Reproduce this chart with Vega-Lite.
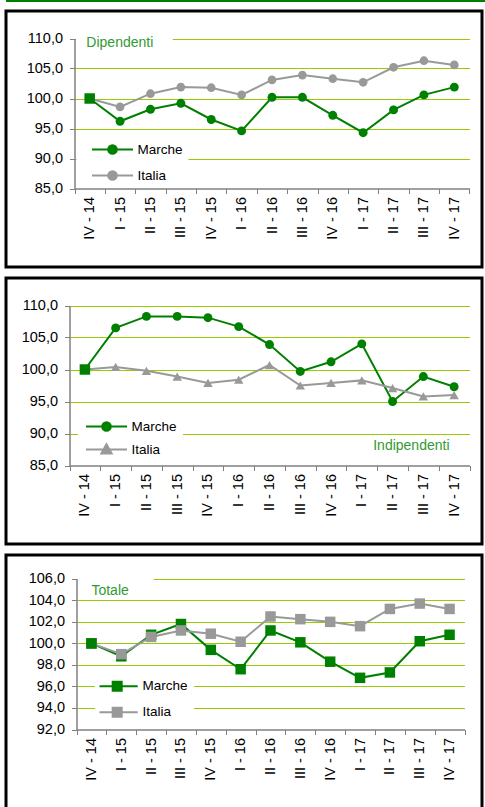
{
  "$schema": "https://vega.github.io/schema/vega-lite/v6.json",
  "padding": {"left": -4, "top": 0, "right": 0, "bottom": 0},
  "spacing": 7,
  "datasets": {
    "d1": [
      {"q": "IV - 14", "s": "Marche", "v": 100.0}, {"q": "I - 15", "s": "Marche", "v": 96.2}, {"q": "II - 15", "s": "Marche", "v": 98.2}, {"q": "III - 15", "s": "Marche", "v": 99.2}, {"q": "IV - 15", "s": "Marche", "v": 96.5}, {"q": "I - 16", "s": "Marche", "v": 94.6}, {"q": "II - 16", "s": "Marche", "v": 100.2}, {"q": "III - 16", "s": "Marche", "v": 100.2}, {"q": "IV - 16", "s": "Marche", "v": 97.2}, {"q": "I - 17", "s": "Marche", "v": 94.3}, {"q": "II - 17", "s": "Marche", "v": 98.1}, {"q": "III - 17", "s": "Marche", "v": 100.6}, {"q": "IV - 17", "s": "Marche", "v": 101.9},
      {"q": "IV - 14", "s": "Italia", "v": 100.0}, {"q": "I - 15", "s": "Italia", "v": 98.6}, {"q": "II - 15", "s": "Italia", "v": 100.8}, {"q": "III - 15", "s": "Italia", "v": 101.9}, {"q": "IV - 15", "s": "Italia", "v": 101.8}, {"q": "I - 16", "s": "Italia", "v": 100.6}, {"q": "II - 16", "s": "Italia", "v": 103.1}, {"q": "III - 16", "s": "Italia", "v": 103.9}, {"q": "IV - 16", "s": "Italia", "v": 103.3}, {"q": "I - 17", "s": "Italia", "v": 102.7}, {"q": "II - 17", "s": "Italia", "v": 105.2}, {"q": "III - 17", "s": "Italia", "v": 106.3}, {"q": "IV - 17", "s": "Italia", "v": 105.6}
    ],
    "d2": [
      {"q": "IV - 14", "s": "Marche", "v": 100.0}, {"q": "I - 15", "s": "Marche", "v": 106.5}, {"q": "II - 15", "s": "Marche", "v": 108.3}, {"q": "III - 15", "s": "Marche", "v": 108.3}, {"q": "IV - 15", "s": "Marche", "v": 108.1}, {"q": "I - 16", "s": "Marche", "v": 106.7}, {"q": "II - 16", "s": "Marche", "v": 103.9}, {"q": "III - 16", "s": "Marche", "v": 99.7}, {"q": "IV - 16", "s": "Marche", "v": 101.2}, {"q": "I - 17", "s": "Marche", "v": 104.0}, {"q": "II - 17", "s": "Marche", "v": 95.0}, {"q": "III - 17", "s": "Marche", "v": 98.9}, {"q": "IV - 17", "s": "Marche", "v": 97.3},
      {"q": "IV - 14", "s": "Italia", "v": 100.0}, {"q": "I - 15", "s": "Italia", "v": 100.4}, {"q": "II - 15", "s": "Italia", "v": 99.8}, {"q": "III - 15", "s": "Italia", "v": 98.9}, {"q": "IV - 15", "s": "Italia", "v": 97.9}, {"q": "I - 16", "s": "Italia", "v": 98.4}, {"q": "II - 16", "s": "Italia", "v": 100.7}, {"q": "III - 16", "s": "Italia", "v": 97.5}, {"q": "IV - 16", "s": "Italia", "v": 97.9}, {"q": "I - 17", "s": "Italia", "v": 98.3}, {"q": "II - 17", "s": "Italia", "v": 97.1}, {"q": "III - 17", "s": "Italia", "v": 95.8}, {"q": "IV - 17", "s": "Italia", "v": 96.0}
    ],
    "d3": [
      {"q": "IV - 14", "s": "Marche", "v": 100.0}, {"q": "I - 15", "s": "Marche", "v": 98.8}, {"q": "II - 15", "s": "Marche", "v": 100.8}, {"q": "III - 15", "s": "Marche", "v": 101.8}, {"q": "IV - 15", "s": "Marche", "v": 99.4}, {"q": "I - 16", "s": "Marche", "v": 97.6}, {"q": "II - 16", "s": "Marche", "v": 101.2}, {"q": "III - 16", "s": "Marche", "v": 100.1}, {"q": "IV - 16", "s": "Marche", "v": 98.3}, {"q": "I - 17", "s": "Marche", "v": 96.8}, {"q": "II - 17", "s": "Marche", "v": 97.3}, {"q": "III - 17", "s": "Marche", "v": 100.2}, {"q": "IV - 17", "s": "Marche", "v": 100.8},
      {"q": "IV - 14", "s": "Italia", "v": 100.0}, {"q": "I - 15", "s": "Italia", "v": 99.0}, {"q": "II - 15", "s": "Italia", "v": 100.6}, {"q": "III - 15", "s": "Italia", "v": 101.2}, {"q": "IV - 15", "s": "Italia", "v": 100.9}, {"q": "I - 16", "s": "Italia", "v": 100.15}, {"q": "II - 16", "s": "Italia", "v": 102.5}, {"q": "III - 16", "s": "Italia", "v": 102.25}, {"q": "IV - 16", "s": "Italia", "v": 102.0}, {"q": "I - 17", "s": "Italia", "v": 101.6}, {"q": "II - 17", "s": "Italia", "v": 103.2}, {"q": "III - 17", "s": "Italia", "v": 103.7}, {"q": "IV - 17", "s": "Italia", "v": 103.2}
    ]
  },
  "vconcat": [
    {
      "width": 480, "height": 2,
      "data": {"values": []},
      "mark": {"type": "rect"},
      "view": {"fill": "#008000", "stroke": null}
    },
    {
      "spacing": 7,
      "resolve": {"scale": {"color": "independent"}, "legend": {"color": "independent"}},
      "vconcat": [
        {
          "width": 476, "height": 256,
          "resolve": {"scale": {"x": "independent", "y": "independent"}},
          "layer": [
            {
              "data": {"values": [{}]},
              "resolve": {"scale": {"y": "independent"}},
              "layer": [
                {"mark": {"type": "rect", "color": "white"},
                 "encoding": {
                   "x": {"datum": 0.05, "type": "quantitative", "scale": {"domain": [0, 13], "range": [68.5, 463.5]}, "axis": null},
                   "x2": {"datum": 3.23},
                   "y": {"datum": 108.8, "type": "quantitative", "axis": null, "scale": {"domain": [85, 110], "range": [177.5, 27.5], "zero": false, "nice": false}},
                   "y2": {"datum": 111}
                 }},
                {"mark": {"type": "text", "text": "Dipendenti", "align": "left", "baseline": "middle", "fontSize": 14, "color": "#339933", "font": "Liberation Sans"},
                 "encoding": {
                   "x": {"datum": 0.39, "type": "quantitative", "axis": null},
                   "y": {"datum": 109.17, "type": "quantitative", "scale": {"domain": [85, 110], "range": [177.5, 27.5], "zero": false, "nice": false},
                         "axis": {"orient": "left", "title": null, "grid": true, "labels": false, "ticks": false, "domain": false, "minExtent": 0, "maxExtent": 0,
                                  "values": [90, 95, 100, 105, 110], "gridColor": "#99CC00", "gridWidth": 1, "gridOpacity": 1}}
                 }}
              ]
            },
            {
              "data": {"name": "d1"},
              "encoding": {
                "x": {"field": "q", "type": "ordinal", "title": null,
                      "scale": {"type": "band", "domain": ["IV - 14","I - 15","II - 15","III - 15","IV - 15","I - 16","II - 16","III - 16","IV - 16","I - 17","II - 17","III - 17","IV - 17"], "range": [68.5, 463.5], "paddingInner": 0, "paddingOuter": 0},
                      "axis": {"orient": "bottom", "offset": -78.5}},
                "y": {"field": "v", "type": "quantitative", "title": null,
                      "scale": {"domain": [85, 110], "range": [177.5, 27.5], "zero": false, "nice": false},
                      "axis": {"orient": "left", "offset": -68.5, "grid": false, "values": [85, 90, 95, 100, 105, 110], "labelExpr": "replace(format(datum.value, '.1f'), '.', ',')"}}
              },
              "layer": [
                {"mark": {"type": "line", "strokeWidth": 2},
                 "encoding": {"color": {"field": "s", "type": "nominal",
                   "scale": {"domain": ["Marche", "Italia"], "range": ["#008000", "#999999"]},
                   "legend": {"orient": "none", "legendX": 70, "legendY": 126.5, "padding": 5, "fillColor": "white", "title": null,
                     "clipHeight": 14, "rowPadding": 12, "symbolOffset": 10, "labelOffset": 3.5, "symbolSize": 1681, "symbolStrokeWidth": 2,
                     "encode": {"symbols": {"update": {
                       "shape": {"value": "M-1,0L1,0M-0.21,0A0.21,0.21 0 1,0 0.21,0A0.21,0.21 0 1,0 -0.21,0Z"},
                       "fill": {"signal": "datum.value === 'Marche' ? '#008000' : '#999999'"},
                       "stroke": {"signal": "datum.value === 'Marche' ? '#008000' : '#999999'"},
                       "strokeWidth": {"value": 2}, "size": {"value": 1681}, "opacity": {"value": 1}}}}}}}},
                {"transform": [{"filter": "datum.s === 'Marche'"}],
                 "mark": {"type": "point", "shape": "circle", "filled": true, "size": 80, "opacity": 1},
                 "encoding": {"color": {"field": "s", "type": "nominal"}}},
                {"transform": [{"filter": "datum.s === 'Italia'"}],
                 "mark": {"type": "point", "shape": "circle", "filled": true, "size": 75, "opacity": 1},
                 "encoding": {"color": {"field": "s", "type": "nominal"}}},
                {"transform": [{"filter": "datum.s === 'Marche' && datum.q === 'IV - 14'"}],
                 "mark": {"type": "square", "filled": true, "size": 110, "color": "#008000", "opacity": 1}}
              ]
            }
          ]
        },
        {
          "width": 476, "height": 266,
          "resolve": {"scale": {"x": "independent", "y": "independent"}},
          "layer": [
            {
              "data": {"values": [{}]},
              "layer": [
                {"mark": {"type": "text", "text": "Indipendenti", "align": "right", "baseline": "middle", "fontSize": 14, "color": "#339933", "font": "Liberation Sans"},
                 "encoding": {
                   "x": {"datum": 12.35, "type": "quantitative", "scale": {"domain": [0, 13], "range": [63.5, 463.5]}, "axis": null},
                   "y": {"datum": 88.1, "type": "quantitative", "scale": {"domain": [85, 110], "range": [187.5, 27.5], "zero": false, "nice": false},
                         "axis": {"orient": "left", "title": null, "grid": true, "labels": false, "ticks": false, "domain": false, "minExtent": 0, "maxExtent": 0,
                                  "values": [90, 95, 100, 105, 110], "gridColor": "#99CC00", "gridWidth": 1, "gridOpacity": 1}}
                 }}
              ]
            },
            {
              "data": {"name": "d2"},
              "encoding": {
                "x": {"field": "q", "type": "ordinal", "title": null,
                      "scale": {"type": "band", "domain": ["IV - 14","I - 15","II - 15","III - 15","IV - 15","I - 16","II - 16","III - 16","IV - 16","I - 17","II - 17","III - 17","IV - 17"], "range": [63.5, 463.5], "paddingInner": 0, "paddingOuter": 0},
                      "axis": {"orient": "bottom", "offset": -78.5}},
                "y": {"field": "v", "type": "quantitative", "title": null,
                      "scale": {"domain": [85, 110], "range": [187.5, 27.5], "zero": false, "nice": false},
                      "axis": {"orient": "left", "offset": -63.5, "grid": false, "values": [85, 90, 95, 100, 105, 110], "labelExpr": "replace(format(datum.value, '.1f'), '.', ',')"}}
              },
              "layer": [
                {"mark": {"type": "line", "strokeWidth": 2},
                 "encoding": {"color": {"field": "s", "type": "nominal",
                   "scale": {"domain": ["Marche", "Italia"], "range": ["#008000", "#999999"]},
                   "legend": {"orient": "none", "legendX": 71.5, "legendY": 136.5, "padding": 5, "fillColor": "white", "title": null,
                     "clipHeight": 14, "rowPadding": 9, "symbolOffset": 2.5, "labelOffset": 3.5, "symbolSize": 1681, "symbolStrokeWidth": 2,
                     "encode": {"symbols": {"update": {
                       "shape": {"signal": "datum.value === 'Marche' ? 'M-1,0L1,0M-0.21,0A0.21,0.21 0 1,0 0.21,0A0.21,0.21 0 1,0 -0.21,0Z' : 'M-1,0L1,0M0,-0.26L0.25,0.19L-0.25,0.19Z'"},
                       "fill": {"signal": "datum.value === 'Marche' ? '#008000' : '#999999'"},
                       "stroke": {"signal": "datum.value === 'Marche' ? '#008000' : '#999999'"},
                       "strokeWidth": {"value": 2}, "size": {"value": 1681}, "opacity": {"value": 1}}}}}}}},
                {"transform": [{"filter": "datum.s === 'Marche'"}],
                 "mark": {"type": "point", "shape": "circle", "filled": true, "size": 80, "opacity": 1},
                 "encoding": {"color": {"field": "s", "type": "nominal"}}},
                {"transform": [{"filter": "datum.s === 'Italia'"}],
                 "mark": {"type": "point", "shape": "triangle-up", "filled": true, "size": 90, "opacity": 1},
                 "encoding": {"color": {"field": "s", "type": "nominal"}}},
                {"transform": [{"filter": "datum.s === 'Marche' && datum.q === 'IV - 14'"}],
                 "mark": {"type": "square", "filled": true, "size": 110, "color": "#008000", "opacity": 1}}
              ]
            }
          ]
        },
        {
          "width": 476, "height": 260,
          "resolve": {"scale": {"x": "independent", "y": "independent"}},
          "layer": [
            {
              "data": {"values": [{}]},
              "resolve": {"scale": {"y": "independent"}},
              "layer": [
                {"mark": {"type": "rect", "color": "white"},
                 "encoding": {
                   "x": {"datum": 0.05, "type": "quantitative", "scale": {"domain": [0, 13], "range": [70.5, 458.5]}, "axis": null},
                   "x2": {"datum": 2.58},
                   "y": {"datum": 105.5, "type": "quantitative", "axis": null, "scale": {"domain": [92, 106], "range": [174.5, 23.8], "zero": false, "nice": false}},
                   "y2": {"datum": 107}
                 }},
                {"mark": {"type": "text", "text": "Totale", "align": "left", "baseline": "middle", "fontSize": 14, "color": "#339933", "font": "Liberation Sans"},
                 "encoding": {
                   "x": {"datum": 0.5, "type": "quantitative", "axis": null},
                   "y": {"datum": 104.9, "type": "quantitative", "scale": {"domain": [92, 106], "range": [174.5, 23.8], "zero": false, "nice": false},
                         "axis": {"orient": "left", "title": null, "grid": true, "labels": false, "ticks": false, "domain": false, "minExtent": 0, "maxExtent": 0,
                                  "values": [94, 96, 98, 100, 102, 104, 106], "gridColor": "#99CC00", "gridWidth": 1, "gridOpacity": 1}}
                 }}
              ]
            },
            {
              "data": {"name": "d3"},
              "encoding": {
                "x": {"field": "q", "type": "ordinal", "title": null,
                      "scale": {"type": "band", "domain": ["IV - 14","I - 15","II - 15","III - 15","IV - 15","I - 16","II - 16","III - 16","IV - 16","I - 17","II - 17","III - 17","IV - 17"], "range": [70.5, 458.5], "paddingInner": 0, "paddingOuter": 0},
                      "axis": {"orient": "bottom", "offset": -85.5}},
                "y": {"field": "v", "type": "quantitative", "title": null,
                      "scale": {"domain": [92, 106], "range": [174.5, 23.8], "zero": false, "nice": false},
                      "axis": {"orient": "left", "offset": -70.5, "grid": false, "values": [92, 94, 96, 98, 100, 102, 104, 106], "labelExpr": "replace(format(datum.value, '.1f'), '.', ',')"}}
              },
              "layer": [
                {"mark": {"type": "line", "strokeWidth": 2},
                 "encoding": {"color": {"field": "s", "type": "nominal",
                   "scale": {"domain": ["Marche", "Italia"], "range": ["#008000", "#999999"]},
                   "legend": {"orient": "none", "legendX": 88.5, "legendY": 119.2, "padding": 5, "fillColor": "white", "title": null,
                     "clipHeight": 14, "rowPadding": 12, "symbolOffset": -3.8, "labelOffset": 3.8, "symbolSize": 1681, "symbolStrokeWidth": 2,
                     "encode": {"symbols": {"update": {
                       "shape": {"value": "M-1,0L1,0M-0.22,-0.22L0.22,-0.22L0.22,0.22L-0.22,0.22Z"},
                       "fill": {"signal": "datum.value === 'Marche' ? '#008000' : '#999999'"},
                       "stroke": {"signal": "datum.value === 'Marche' ? '#008000' : '#999999'"},
                       "strokeWidth": {"value": 2}, "size": {"value": 1681}, "opacity": {"value": 1}}}}}}}},
                {"transform": [{"filter": "datum.s === 'Marche'"}],
                 "mark": {"type": "point", "shape": "square", "filled": true, "size": 110, "opacity": 1},
                 "encoding": {"color": {"field": "s", "type": "nominal"}}},
                {"transform": [{"filter": "datum.s === 'Italia'"}],
                 "mark": {"type": "point", "shape": "square", "filled": true, "size": 110, "opacity": 1},
                 "encoding": {"color": {"field": "s", "type": "nominal"}}},
                {"transform": [{"filter": "datum.s === 'Marche' && datum.q === 'IV - 14'"}],
                 "mark": {"type": "square", "filled": true, "size": 110, "color": "#008000", "opacity": 1}}
              ]
            }
          ]
        }
      ]
    }
  ],
  "config": {
    "font": "Liberation Sans",
    "view": {"stroke": "black", "strokeWidth": 3},
    "axis": {"labelFont": "Liberation Sans", "labelFontSize": 14.5, "labelColor": "black", "domainColor": "#808080", "domainWidth": 1.5, "tickColor": "#808080", "tickSize": 5, "tickWidth": 1},
    "axisX": {"grid": false, "tickBand": "extent", "labelAngle": 270, "labelPadding": 3, "labelOverlap": false},
    "axisY": {"labelPadding": 7},
    "legend": {"labelFont": "Liberation Sans", "labelFontSize": 13.5, "labelColor": "black", "strokeColor": "transparent"}
  }
}
